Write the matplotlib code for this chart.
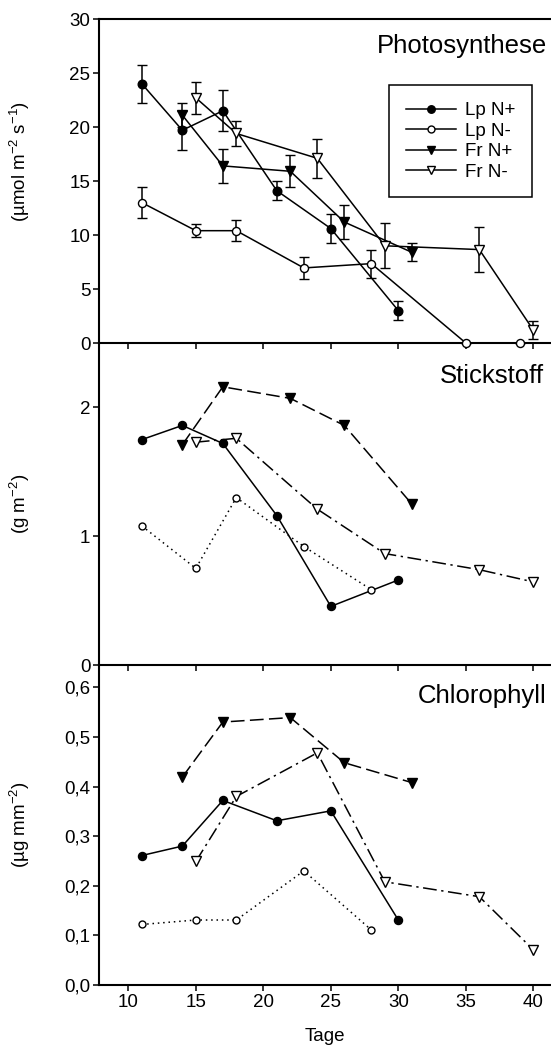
import matplotlib
matplotlib.use("Agg")
import matplotlib.pyplot as plt
from matplotlib.lines import Line2D
from matplotlib.ticker import FuncFormatter

plt.rcParams['font.family'] = ['Liberation Sans', 'DejaVu Sans']
plt.rcParams['mathtext.fontset'] = 'custom'
plt.rcParams['mathtext.rm'] = 'Liberation Sans'
plt.rcParams['mathtext.it'] = 'Liberation Sans'
plt.rcParams['axes.unicode_minus'] = False

# Photosynthese (mit Fehlerbalken)
ps_lp_np_x = [11, 14, 17, 21, 25, 30]
ps_lp_np_y = [24.0, 19.7, 21.5, 14.1, 10.6, 3.0]
ps_lp_np_e = [1.75, 1.8, 1.9, 0.9, 1.3, 0.9]

ps_lp_nm_x = [11, 15, 18, 23, 28, 35, 39]
ps_lp_nm_y = [13.0, 10.4, 10.4, 6.95, 7.35, 0.0, 0.0]
ps_lp_nm_e = [1.4, 0.6, 0.95, 1.0, 1.3, 0.0, 0.0]

ps_fr_np_x = [14, 17, 22, 26, 31]
ps_fr_np_y = [21.1, 16.4, 15.9, 11.2, 8.4]
ps_fr_np_e = [1.1, 1.6, 1.5, 1.6, 0.85]

ps_fr_nm_x = [15, 18, 24, 29, 36, 40]
ps_fr_nm_y = [22.7, 19.4, 17.1, 9.0, 8.65, 1.2]
ps_fr_nm_e = [1.5, 1.15, 1.8, 2.1, 2.1, 0.8]

# Stickstoff
n_lp_np_x = [11, 14, 17, 21, 25, 30]
n_lp_np_y = [1.75, 1.86, 1.72, 1.16, 0.455, 0.66]
n_lp_nm_x = [11, 15, 18, 23, 28]
n_lp_nm_y = [1.08, 0.75, 1.30, 0.92, 0.585]
n_fr_np_x = [14, 17, 22, 26, 31]
n_fr_np_y = [1.71, 2.16, 2.07, 1.86, 1.25]
n_fr_nm_x = [15, 18, 24, 29, 36, 40]
n_fr_nm_y = [1.73, 1.76, 1.21, 0.865, 0.74, 0.645]

# Chlorophyll
c_lp_np_x = [11, 14, 17, 21, 25, 30]
c_lp_np_y = [0.261, 0.280, 0.372, 0.331, 0.351, 0.131]
c_lp_nm_x = [11, 15, 18, 23, 28]
c_lp_nm_y = [0.122, 0.131, 0.131, 0.230, 0.111]
c_fr_np_x = [14, 17, 22, 26, 31]
c_fr_np_y = [0.419, 0.530, 0.539, 0.448, 0.408]
c_fr_nm_x = [15, 18, 24, 29, 36, 40]
c_fr_nm_y = [0.249, 0.380, 0.468, 0.208, 0.178, 0.071]

labels = ['Lp N+', 'Lp N-', 'Fr N+', 'Fr N-']

# Stil je Serie: Marker, Füllung, Größe, Linienstil (unten)
STYLES = [
    dict(marker='o', mfc='black', ms=5.8, ls='-'),
    dict(marker='o', mfc='white', ms=5.0, ls=(0, (1, 2.5))),
    dict(marker='v', mfc='black', ms=7.0, ls=(0, (9, 3.5))),
    dict(marker='v', mfc='white', ms=7.0, ls=(0, (9, 3, 1.5, 3))),
]
PS_MS = [6.2, 5.8, 7.2, 7.2]

FS = 13.5
TFS = 18.5

fig = plt.figure(figsize=(5.51, 10.53), dpi=100)
W, H = 551, 1053
x0 = 99.3
xw = W - x0
ax1 = fig.add_axes([x0 / W, (H - 343) / H, xw / W, 324 / H])
ax2 = fig.add_axes([x0 / W, (H - 665) / H, xw / W, 322 / H])
ax3 = fig.add_axes([x0 / W, (H - 985) / H, xw / W, 320 / H])

for ax in (ax1, ax2, ax3):
    ax.set_xlim(7.85, 41.31)
    ax.set_xticks([10, 15, 20, 25, 30, 35, 40])
    ax.spines['right'].set_visible(False)
    for s in ('left', 'bottom', 'top'):
        ax.spines[s].set_linewidth(1.5)
    ax.tick_params(direction='out', length=4.5, width=1.1, labelsize=FS, pad=2.0)
    ax.set_facecolor('none')
ax2.spines['top'].set_visible(False)
ax3.spines['top'].set_visible(False)
ax1.tick_params(axis='x', labelbottom=False)
ax2.tick_params(axis='x', labelbottom=False)

# Panel 1: Photosynthese
ps_data = [
    (ps_lp_np_x, ps_lp_np_y, ps_lp_np_e),
    (ps_lp_nm_x, ps_lp_nm_y, ps_lp_nm_e),
    (ps_fr_np_x, ps_fr_np_y, ps_fr_np_e),
    (ps_fr_nm_x, ps_fr_nm_y, ps_fr_nm_e),
]
handles = []
for (x, y, e), st, ms, lab in zip(ps_data, STYLES, PS_MS, labels):
    ax1.errorbar(x, y, yerr=e, color='black', lw=1.1, elinewidth=1.1,
                 capsize=3.5, capthick=1.1, marker=st['marker'], ms=ms,
                 mfc=st['mfc'], mec='black', mew=1.0, clip_on=False, zorder=3)
    handles.append(Line2D([], [], color='black', lw=1.1, marker=st['marker'],
                          ms=ms - 0.8, mfc=st['mfc'], mec='black', mew=1.0,
                          label=lab))
ax1.set_ylim(0, 30)
ax1.set_yticks([0, 5, 10, 15, 20, 25, 30])
ax1.text(0.991, 0.894, 'Photosynthese', transform=ax1.transAxes, ha='right',
         va='baseline', fontsize=TFS)
ax1.set_ylabel(r'(µmol m$^{-2}$ s$^{-1}$)', fontsize=FS)
ax1.yaxis.set_label_coords(-0.15, 0.56)
leg = ax1.legend(handles=handles, loc='upper left', bbox_to_anchor=(0.641, 0.796),
                 borderaxespad=0, frameon=True, fancybox=False, edgecolor='black',
                 fontsize=FS, handlelength=2.7, labelspacing=0.18,
                 borderpad=0.9, handletextpad=0.45, framealpha=1)
leg.get_frame().set_linewidth(1.1)

# Panel 2: Stickstoff
n_data = [
    (n_lp_np_x, n_lp_np_y),
    (n_lp_nm_x, n_lp_nm_y),
    (n_fr_np_x, n_fr_np_y),
    (n_fr_nm_x, n_fr_nm_y),
]
for (x, y), st in zip(n_data, STYLES):
    ax2.plot(x, y, color='black', lw=1.1, ls=st['ls'], marker=st['marker'],
             ms=st['ms'], mfc=st['mfc'], mec='black', mew=1.0)
ax2.set_ylim(0, 2.5)
ax2.set_yticks([0, 1, 2])
ax2.text(0.985, 0.875, 'Stickstoff', transform=ax2.transAxes, ha='right',
         va='baseline', fontsize=TFS)
ax2.set_ylabel(r'(g m$^{-2}$)', fontsize=FS)
ax2.yaxis.set_label_coords(-0.15, 0.5)

# Panel 3: Chlorophyll
c_data = [
    (c_lp_np_x, c_lp_np_y),
    (c_lp_nm_x, c_lp_nm_y),
    (c_fr_np_x, c_fr_np_y),
    (c_fr_nm_x, c_fr_nm_y),
]
for (x, y), st in zip(c_data, STYLES):
    ax3.plot(x, y, color='black', lw=1.1, ls=st['ls'], marker=st['marker'],
             ms=st['ms'], mfc=st['mfc'], mec='black', mew=1.0)
ax3.set_ylim(0, 0.645)
ax3.set_yticks([0, 0.1, 0.2, 0.3, 0.4, 0.5, 0.6])
ax3.yaxis.set_major_formatter(FuncFormatter(lambda v, p: f'{v:.1f}'.replace('.', ',')))
ax3.text(0.989, 0.880, 'Chlorophyll', transform=ax3.transAxes, ha='right',
         va='baseline', fontsize=TFS)
ax3.set_ylabel(r'(µg mm$^{-2}$)', fontsize=FS)
ax3.yaxis.set_label_coords(-0.15, 0.5)
ax3.set_xlabel('Tage', fontsize=FS, labelpad=12)

fig.savefig('out.png', dpi=100, facecolor='white')
